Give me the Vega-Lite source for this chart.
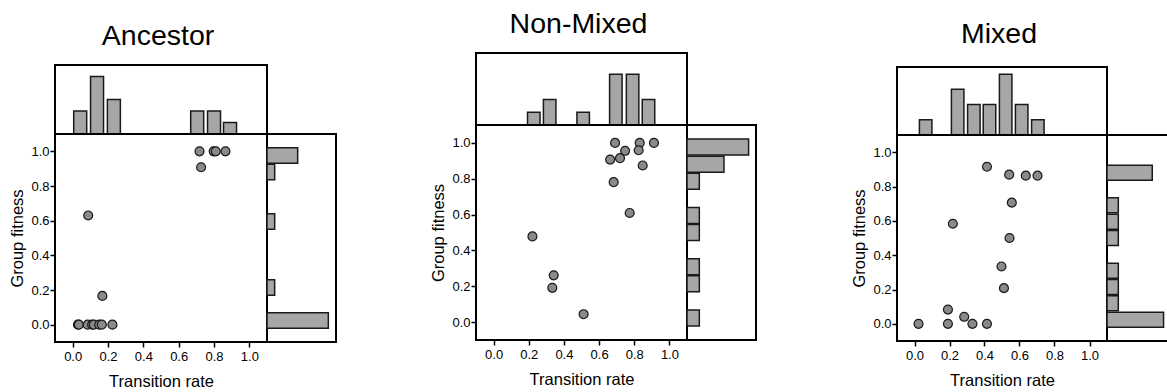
{
  "$schema": "https://vega.github.io/schema/vega-lite/v6.json",
  "background": "white",
  "padding": {"left": 8, "top": 8, "right": 0, "bottom": 0},
  "config": {
    "font": "Liberation Sans",
    "view": {"stroke": "black", "strokeWidth": 2},
    "axis": {
      "domain": false,
      "grid": false,
      "tickColor": "black",
      "tickSize": 5,
      "tickWidth": 1.5,
      "labelFontSize": 13,
      "labelColor": "black",
      "titleFontSize": 16.5,
      "titleFontWeight": "normal",
      "titleColor": "black"
    },
    "axisX": {"labelPadding": 3, "titlePadding": 10},
    "axisY": {"labelPadding": 1, "titlePadding": 5},
    "title": {"fontSize": 28.5, "fontWeight": "normal", "color": "black", "anchor": "middle", "baseline": "alphabetic", "dx": -3}
  },
  "datasets": {
    "anc": [
      {"rate": 0.03, "fitness": 0.0}, {"rate": 0.035, "fitness": 0.0}, {"rate": 0.085, "fitness": 0.0},
      {"rate": 0.11, "fitness": 0.0}, {"rate": 0.12, "fitness": 0.0}, {"rate": 0.15, "fitness": 0.0},
      {"rate": 0.165, "fitness": 0.0}, {"rate": 0.225, "fitness": 0.0}, {"rate": 0.088, "fitness": 0.63},
      {"rate": 0.168, "fitness": 0.166}, {"rate": 0.718, "fitness": 1.0}, {"rate": 0.798, "fitness": 1.0},
      {"rate": 0.81, "fitness": 1.0}, {"rate": 0.865, "fitness": 1.0}, {"rate": 0.727, "fitness": 0.908}
    ],
    "anc_top": [
      {"rate": 0.02, "count": 2}, {"rate": 0.12, "count": 5}, {"rate": 0.22, "count": 3},
      {"rate": 0.715, "count": 2}, {"rate": 0.815, "count": 2}, {"rate": 0.91, "count": 1}
    ],
    "anc_right": [
      {"fitness": 1.0, "count": 4}, {"fitness": 0.9, "count": 1}, {"fitness": 0.6, "count": 1},
      {"fitness": 0.2, "count": 1}, {"fitness": 0.0, "count": 8}
    ],
    "non": [
      {"rate": 0.691, "fitness": 1.0}, {"rate": 0.831, "fitness": 1.0}, {"rate": 0.912, "fitness": 1.0},
      {"rate": 0.748, "fitness": 0.956}, {"rate": 0.825, "fitness": 0.959}, {"rate": 0.663, "fitness": 0.907},
      {"rate": 0.719, "fitness": 0.915}, {"rate": 0.848, "fitness": 0.874}, {"rate": 0.683, "fitness": 0.781},
      {"rate": 0.774, "fitness": 0.609}, {"rate": 0.221, "fitness": 0.478}, {"rate": 0.342, "fitness": 0.261},
      {"rate": 0.334, "fitness": 0.191}, {"rate": 0.512, "fitness": 0.044}
    ],
    "non_top": [
      {"rate": 0.215, "count": 1}, {"rate": 0.31, "count": 2}, {"rate": 0.51, "count": 1},
      {"rate": 0.705, "count": 4}, {"rate": 0.805, "count": 4}, {"rate": 0.9, "count": 2}
    ],
    "non_right": [
      {"fitness": 1.0, "count": 5}, {"fitness": 0.9, "count": 3}, {"fitness": 0.8, "count": 1},
      {"fitness": 0.6, "count": 1}, {"fitness": 0.5, "count": 1}, {"fitness": 0.3, "count": 1},
      {"fitness": 0.2, "count": 1}, {"fitness": 0.0, "count": 1}
    ],
    "mix": [
      {"rate": 0.023, "fitness": 0.0}, {"rate": 0.191, "fitness": 0.0}, {"rate": 0.191, "fitness": 0.083},
      {"rate": 0.284, "fitness": 0.041}, {"rate": 0.331, "fitness": 0.0}, {"rate": 0.414, "fitness": 0.0},
      {"rate": 0.414, "fitness": 0.915}, {"rate": 0.219, "fitness": 0.583}, {"rate": 0.541, "fitness": 0.869},
      {"rate": 0.636, "fitness": 0.863}, {"rate": 0.703, "fitness": 0.863}, {"rate": 0.556, "fitness": 0.706},
      {"rate": 0.543, "fitness": 0.5}, {"rate": 0.497, "fitness": 0.334}, {"rate": 0.511, "fitness": 0.208}
    ],
    "mix_top": [
      {"rate": 0.042, "count": 1}, {"rate": 0.234, "count": 3}, {"rate": 0.331, "count": 2},
      {"rate": 0.425, "count": 2}, {"rate": 0.522, "count": 4}, {"rate": 0.618, "count": 2},
      {"rate": 0.715, "count": 1}
    ],
    "mix_right": [
      {"fitness": 0.9, "count": 4}, {"fitness": 0.7, "count": 1}, {"fitness": 0.6, "count": 1},
      {"fitness": 0.5, "count": 1}, {"fitness": 0.3, "count": 1}, {"fitness": 0.2, "count": 1},
      {"fitness": 0.1, "count": 1}, {"fitness": 0.0, "count": 5}
    ]
  },
  "columns": 2,
  "align": "none",
  "spacing": 92,
  "concat": [
    {
      "columns": 2, "spacing": 0, "bounds": "flush", "align": "each",
      "concat": [
        {"width": 1, "height": 12, "data": {"values": []}, "mark": "point", "encoding": {}, "view": {"stroke": null}},
        {"width": 1, "height": 12, "data": {"values": []}, "mark": "point", "encoding": {}, "view": {"stroke": null}},
        {
          "title": {"text": "Ancestor", "offset": 15},
          "width": 212, "height": 69,
          "data": {"name": "anc_top"},
          "mark": {"type": "bar", "orient": "vertical", "width": 13, "fill": "#a6a6a6", "stroke": "#1a1a1a", "strokeWidth": 1.5},
          "encoding": {
            "x": {"field": "rate", "type": "quantitative", "scale": {"domain": [-0.1, 1.1], "nice": false, "zero": false}, "axis": null},
            "y": {"field": "count", "type": "quantitative", "scale": {"domain": [0, 6], "nice": false}, "axis": null}
          }
        },
        {"width": 69, "height": 1, "data": {"values": []}, "mark": "point", "encoding": {}, "view": {"stroke": null}},
        {
          "width": 212, "height": 208,
          "data": {"name": "anc"},
          "mark": {"type": "point", "filled": true, "fill": "#8a8a8a", "stroke": "#1a1a1a", "strokeWidth": 1.2, "size": 80, "opacity": 1},
          "encoding": {
            "x": {"field": "rate", "type": "quantitative", "title": "Transition rate", "scale": {"domain": [-0.1, 1.1], "nice": false, "zero": false}, "axis": {"values": [0, 0.2, 0.4, 0.6, 0.8, 1.0], "format": ".1f"}},
            "y": {"field": "fitness", "type": "quantitative", "title": "Group fitness", "scale": {"domain": [-0.1, 1.1], "nice": false, "zero": false}, "axis": {"values": [0, 0.2, 0.4, 0.6, 0.8, 1.0], "format": ".1f"}}
          }
        },
        {
          "width": 69, "height": 208,
          "data": {"name": "anc_right"},
          "mark": {"type": "bar", "orient": "horizontal", "height": 15.5, "fill": "#a6a6a6", "stroke": "#1a1a1a", "strokeWidth": 1.5},
          "encoding": {
            "y": {"field": "fitness", "type": "quantitative", "scale": {"domain": [-0.1, 1.1], "nice": false, "zero": false}, "axis": null},
            "x": {"field": "count", "type": "quantitative", "scale": {"domain": [0, 9], "nice": false}, "axis": null}
          }
        }
      ]
    },
    {
      "columns": 2,
      "align": "none",
      "spacing": 93,
      "concat": [
        {
          "columns": 2, "spacing": 0, "bounds": "flush", "align": "each",
          "concat": [
            {
              "title": {"text": "Non-Mixed", "offset": 15},
              "width": 211, "height": 72,
              "data": {"name": "non_top"},
              "mark": {"type": "bar", "orient": "vertical", "width": 12.5, "fill": "#a6a6a6", "stroke": "#1a1a1a", "strokeWidth": 1.5},
              "encoding": {
                "x": {"field": "rate", "type": "quantitative", "scale": {"domain": [-0.1, 1.1], "nice": false, "zero": false}, "axis": null},
                "y": {"field": "count", "type": "quantitative", "scale": {"domain": [0, 5.67], "nice": false}, "axis": null}
              }
            },
            {"width": 69, "height": 1, "data": {"values": []}, "mark": "point", "encoding": {}, "view": {"stroke": null}},
            {
              "width": 211, "height": 215,
              "data": {"name": "non"},
              "mark": {"type": "point", "filled": true, "fill": "#8a8a8a", "stroke": "#1a1a1a", "strokeWidth": 1.2, "size": 80, "opacity": 1},
              "encoding": {
                "x": {"field": "rate", "type": "quantitative", "title": "Transition rate", "scale": {"domain": [-0.1, 1.1], "nice": false, "zero": false}, "axis": {"values": [0, 0.2, 0.4, 0.6, 0.8, 1.0], "format": ".1f"}},
                "y": {"field": "fitness", "type": "quantitative", "title": "Group fitness", "scale": {"domain": [-0.1, 1.1], "nice": false, "zero": false}, "axis": {"values": [0, 0.2, 0.4, 0.6, 0.8, 1.0], "format": ".1f"}}
              }
            },
            {
              "width": 69, "height": 215,
              "data": {"name": "non_right"},
              "mark": {"type": "bar", "orient": "horizontal", "height": 16, "fill": "#a6a6a6", "stroke": "#1a1a1a", "strokeWidth": 1.5},
              "encoding": {
                "y": {"field": "fitness", "type": "quantitative", "scale": {"domain": [-0.1, 1.1], "nice": false, "zero": false}, "axis": null},
                "x": {"field": "count", "type": "quantitative", "scale": {"domain": [0, 5.6], "nice": false}, "axis": null}
              }
            }
          ]
        },
        {
          "columns": 2, "spacing": 0, "bounds": "flush", "align": "each",
          "concat": [
            {"width": 1, "height": 14, "data": {"values": []}, "mark": "point", "encoding": {}, "view": {"stroke": null}},
            {"width": 1, "height": 14, "data": {"values": []}, "mark": "point", "encoding": {}, "view": {"stroke": null}},
            {
              "title": {"text": "Mixed", "offset": 18.3},
              "width": 210, "height": 68,
              "data": {"name": "mix_top"},
              "mark": {"type": "bar", "orient": "vertical", "width": 12.5, "fill": "#a6a6a6", "stroke": "#1a1a1a", "strokeWidth": 1.5},
              "encoding": {
                "x": {"field": "rate", "type": "quantitative", "scale": {"domain": [-0.1, 1.1], "nice": false, "zero": false}, "axis": null},
                "y": {"field": "count", "type": "quantitative", "scale": {"domain": [0, 4.47], "nice": false}, "axis": null}
              }
            },
            {"width": 69, "height": 1, "data": {"values": []}, "mark": "point", "encoding": {}, "view": {"stroke": null}},
            {
              "width": 210, "height": 206,
              "data": {"name": "mix"},
              "mark": {"type": "point", "filled": true, "fill": "#8a8a8a", "stroke": "#1a1a1a", "strokeWidth": 1.2, "size": 80, "opacity": 1},
              "encoding": {
                "x": {"field": "rate", "type": "quantitative", "title": "Transition rate", "scale": {"domain": [-0.1, 1.1], "nice": false, "zero": false}, "axis": {"values": [0, 0.2, 0.4, 0.6, 0.8, 1.0], "format": ".1f"}},
                "y": {"field": "fitness", "type": "quantitative", "title": "Group fitness", "scale": {"domain": [-0.1, 1.1], "nice": false, "zero": false}, "axis": {"values": [0, 0.2, 0.4, 0.6, 0.8, 1.0], "format": ".1f"}}
              }
            },
            {
              "width": 69, "height": 206,
              "data": {"name": "mix_right"},
              "mark": {"type": "bar", "orient": "horizontal", "height": 15, "fill": "#a6a6a6", "stroke": "#1a1a1a", "strokeWidth": 1.5},
              "encoding": {
                "y": {"field": "fitness", "type": "quantitative", "scale": {"domain": [-0.1, 1.1], "nice": false, "zero": false}, "axis": null},
                "x": {"field": "count", "type": "quantitative", "scale": {"domain": [0, 6.1], "nice": false}, "axis": null}
              }
            }
          ]
        }
      ]
    }
  ]
}
